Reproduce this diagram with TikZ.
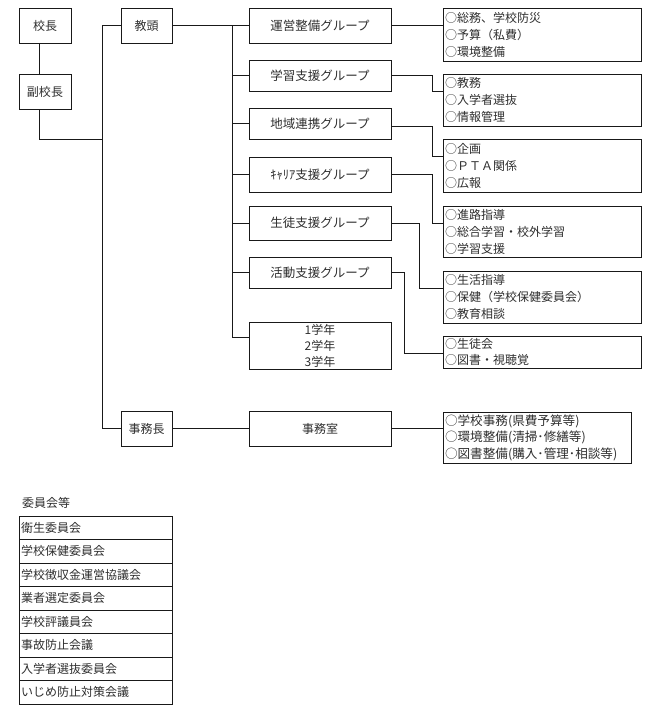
\documentclass[tikz,border=0pt]{standalone}
\usepackage{fontspec}
\setmainfont{Noto Sans CJK JP}
\begin{document}
\begin{tikzpicture}[x=1pt,y=-1pt,
  txtc/.style={text=black!82},
  bx/.style={draw=black!90, line width=0.8pt, inner sep=0pt, outer sep=0pt, font=\fontsize{12}{16}\selectfont, txtc},
  small/.style={bx, minimum width=52pt, minimum height=35pt},
  grp/.style={bx, minimum width=142pt, align=center, font=\fontsize{12.5}{16}\selectfont},
  rbox/.style={bx, minimum width=198pt, text width=194pt, align=left, font=\fontsize{12}{17}\selectfont},
  crow/.style={bx, minimum width=153pt, minimum height=23.5pt, text width=149pt, align=left},
  ln/.style={draw=black!90, line width=0.8pt}
]
\useasboundingbox (0,0) rectangle (660,717);

% left column
\node[small] (kocho) at (45,25.5) {校長};
\node[small] (fuku) at (45,91.5) {副校長};
\node[small, minimum width=51pt] (kyoto) at (146.5,25.5) {教頭};
\node[small, minimum width=51pt] (jimucho) at (146.5,428.5) {事務長};

% groups
\node[grp, minimum height=35pt] (g1) at (320,25.5) {運営整備グループ};
\node[grp, minimum height=31pt] (g2) at (320,75.5) {学習支援グループ};
\node[grp, minimum height=31pt] (g3) at (320,123.5) {地域連携グループ};
\node[grp, minimum height=35pt] (g4) at (320,174.5) {ｷｬﾘｱ支援グループ};
\node[grp, minimum height=34pt] (g5) at (320,223) {生徒支援グループ};
\node[grp, minimum height=31pt] (g6) at (320,272.5) {活動支援グループ};
\node[grp, minimum height=47pt, font=\fontsize{12}{16}\selectfont] (gak) at (320,345.5) {1学年\\2学年\\3学年};
\node[grp, minimum height=35pt, font=\fontsize{12}{16}\selectfont] (jsh) at (320,428.5) {事務室};

% right boxes
\node[rbox, minimum height=53pt] (r1) at (542,34.5) {○総務、学校防災\\○予算（私費）\\○環境整備};
\node[rbox, minimum height=52pt] (r2) at (542,100) {○教務\\○入学者選抜\\○情報管理};
\node[rbox, minimum height=53pt] (r3) at (542,165.5) {○企画\\○ＰＴＡ関係\\○広報};
\node[rbox, minimum height=51pt] (r4) at (542,231.5) {○進路指導\\○総合学習・校外学習\\○学習支援};
\node[rbox, minimum height=52pt] (r5) at (542,297) {○生活指導\\○保健（学校保健委員会）\\○教育相談};
\node[rbox, minimum height=32pt, font=\fontsize{12}{16}\selectfont] (r6) at (542,352) {○生徒会\\○図書・視聴覚};
\node[rbox, minimum width=188pt, text width=184pt, minimum height=51pt, font=\fontsize{12.6}{16.5}\selectfont] (r7) at (537,437.5) {○学校事務(県費予算等)\\○環境整備(清掃･修繕等)\\○図書整備(購入･管理･相談等)};

% coordinates
\coordinate (tA) at (102,139);
\coordinate (tTop) at (102,25.5);
\coordinate (gBot) at (232,337);

% connectors
\draw[ln] ([xshift=-6pt]kocho.south) -- ([xshift=-6pt]fuku.north);
\draw[ln] ([xshift=-6pt]fuku.south) |- (tA);
\draw[ln] (kyoto.west) -- (tTop) -- (tTop |- jimucho.west) -- (jimucho.west);
\draw[ln] (kyoto.east) -- (g1.west);
\draw[ln] (g1.west -| gBot) -- (gBot) -- (gBot -| gak.west);
\draw[ln] (g2.west -| gBot) -- (g2.west);
\draw[ln] (g3.west -| gBot) -- (g3.west);
\draw[ln] (g4.west -| gBot) -- (g4.west);
\draw[ln] (g5.west -| gBot) -- (g5.west);
\draw[ln] (g6.west -| gBot) -- (g6.west);

\draw[ln] (g1.east) -- (g1.east -| r1.west);
\draw[ln] (g2.east) -- ++(41,0) |- ([yshift=9pt]r2.west);
\draw[ln] ([yshift=-2.5pt]g3.east) -- ++(41,0) |- ([yshift=9.5pt]r3.west);
\draw[ln] (g4.east) -- ++(41,0) |- ([yshift=8.5pt]r4.west);
\draw[ln] (g5.east) -- ++(28,0) |- ([yshift=9pt]r5.west);
\draw[ln] (g6.east) -- ++(13,0) |- ([yshift=-1pt]r6.west);

\draw[ln] (jimucho.east) -- (jsh.west);
\draw[ln] (jsh.east) -- (jsh.east -| r7.west);

% committees
\node[anchor=west, font=\fontsize{12}{16}\selectfont, txtc, inner sep=0pt] (ctitle) at (22,503) {委員会等};
\node[crow] (c1) at (95.5,527.75) {衛生委員会};
\node[crow] (c2) at (95.5,551.25) {学校保健委員会};
\node[crow] (c3) at (95.5,574.75) {学校徴収金運営協議会};
\node[crow] (c4) at (95.5,598.25) {業者選定委員会};
\node[crow] (c5) at (95.5,621.75) {学校評議員会};
\node[crow] (c6) at (95.5,645.25) {事故防止会議};
\node[crow] (c7) at (95.5,668.75) {入学者選抜委員会};
\node[crow] (c8) at (95.5,692.25) {いじめ防止対策会議};
\end{tikzpicture}
\end{document}
